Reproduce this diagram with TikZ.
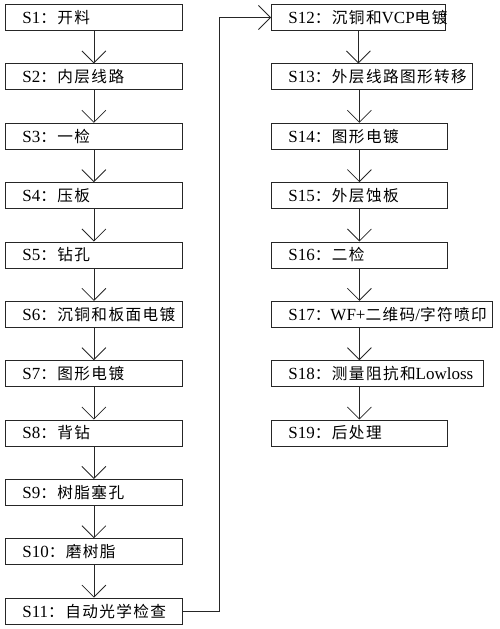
\documentclass[tikz,border=0pt]{standalone}
\usepackage{fontspec}
\setmainfont{Liberation Serif}
\newfontfamily\cjk[Scale=0.92,LetterSpace=9]{Noto Sans CJK SC}
\usetikzlibrary{arrows.meta}

\newcommand{\sname}[2]{\hspace*{17pt}#1{\cjk ：#2}}

\begin{document}
\begin{tikzpicture}[x=1pt,y=-1pt,
    stage/.style={draw=black!85,line width=0.8pt,anchor=west,inner xsep=0pt,inner ysep=0pt,
                  minimum height=26pt,text width=#1,align=left,font=\fontsize{17}{20}\selectfont},
    flow/.style={draw=black!85,line width=0.8pt,-{Straight Barb[length=12pt,width=24pt]}}]

            %\draw [help lines] (0,0) grid (500,629);
            \useasboundingbox (0,0) rectangle (500,629);

            \path   (5,17.5)   node (s1)  [stage=177pt] {\sname{S1}{开料}}
                    (5,76.85)  node (s2)  [stage=177pt] {\sname{S2}{内层线路}}
                    (5,136.2)  node (s3)  [stage=177pt] {\sname{S3}{一检}}
                    (5,195.55) node (s4)  [stage=177pt] {\sname{S4}{压板}}
                    (5,254.9)  node (s5)  [stage=177pt] {\sname{S5}{钻孔}}
                    (5,314.25) node (s6)  [stage=177pt] {\sname{S6}{沉铜和板面电镀}}
                    (5,373.6)  node (s7)  [stage=177pt] {\sname{S7}{图形电镀}}
                    (5,432.95) node (s8)  [stage=177pt] {\sname{S8}{背钻}}
                    (5,492.3)  node (s9)  [stage=177pt] {\sname{S9}{树脂塞孔}}
                    (5,551.65) node (s10) [stage=177pt] {\sname{S10}{磨树脂}}
                    (5,611)    node (s11) [stage=177pt] {\sname{S11}{自动光学检查}};

            \path   (271,17.5)   node (s12) [stage=174pt] {\sname{S12}{沉铜和{\rmfamily VCP}电镀}}
                    (271,76.85)  node (s13) [stage=201pt] {\sname{S13}{外层线路图形转移}}
                    (271,136.2)  node (s14) [stage=176pt] {\sname{S14}{图形电镀}}
                    (271,195.55) node (s15) [stage=176pt] {\sname{S15}{外层蚀板}}
                    (271,254.9)  node (s16) [stage=176pt] {\sname{S16}{二检}}
                    (271,314.25) node (s17) [stage=221pt] {\sname{S17}{{\rmfamily WF+}二维码{\rmfamily /}字符喷印}}
                    (271,373.6)  node (s18) [stage=212pt] {\sname{S18}{测量阻抗和{\rmfamily Lowloss}}}
                    (271,432.95) node (s19) [stage=176pt] {\sname{S19}{后处理}};

            \draw[flow] (node cs: name =s1) -- (node cs: name =s2);
            \draw[flow] (node cs: name =s2) -- (node cs: name =s3);
            \draw[flow] (node cs: name =s3) -- (node cs: name =s4);
            \draw[flow] (node cs: name =s4) -- (node cs: name =s5);
            \draw[flow] (node cs: name =s5) -- (node cs: name =s6);
            \draw[flow] (node cs: name =s6) -- (node cs: name =s7);
            \draw[flow] (node cs: name =s7) -- (node cs: name =s8);
            \draw[flow] (node cs: name =s8) -- (node cs: name =s9);
            \draw[flow] (node cs: name =s9) -- (node cs: name =s10);
            \draw[flow] (node cs: name =s10) -- (node cs: name =s11);

            \draw[flow] (s11.east) -- ++(37,0) |- (s12.west);

            \draw[flow] (s12.south) -- (s12.south |- s13.north);
            \draw[flow] (s13.south -| s14) -- (s14);
            \draw[flow] (s14) -- (s15);
            \draw[flow] (s15) -- (s16);
            \draw[flow] (s16) -- (s16 |- s17.north);
            \draw[flow] (s17.south -| s16) -- (s18.north -| s16);
            \draw[flow] (s18.south -| s19) -- (s19);
        \end{tikzpicture}
\end{document}
